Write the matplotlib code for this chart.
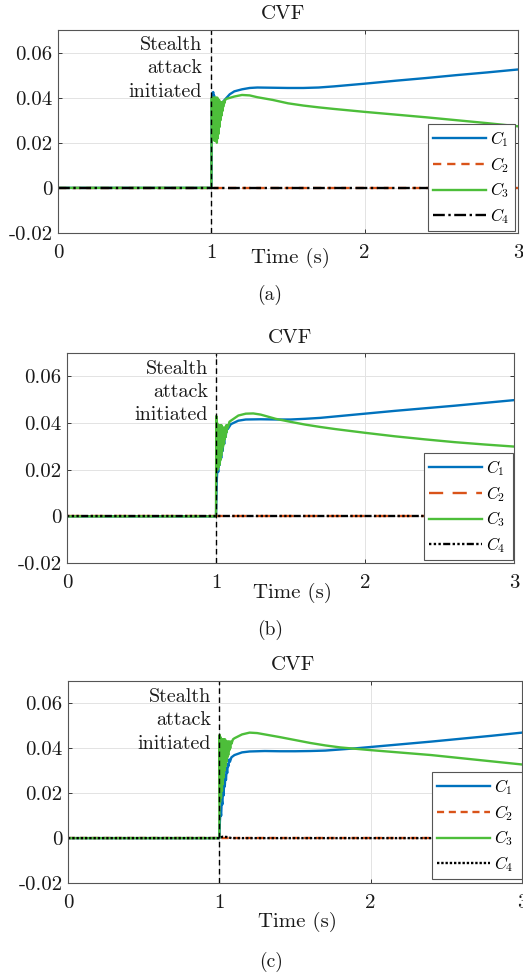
import matplotlib
matplotlib.use("Agg")
import matplotlib.pyplot as plt

plt.rcParams['font.family'] = ['cmr10', 'DejaVu Serif']
plt.rcParams['mathtext.fontset'] = 'cm'
plt.rcParams['axes.unicode_minus'] = False
plt.rcParams['axes.formatter.use_mathtext'] = True

# ---------------- data ----------------
X_TICKS = [0, 1, 2, 3]
X_TICK_LABELS = ['0', '1', '2', '3']
Y_TICKS = [-0.02, 0, 0.02, 0.04, 0.06]
Y_TICK_LABELS = ['-0.02', '0', '0.02', '0.04', '0.06']
ATTACK_TIME = 1.0
SERIES_NAMES = ['$C_1$', '$C_2$', '$C_3$', '$C_4$']
PANEL_LABELS = ['(a)', '(b)', '(c)']

A_C1 = [(0, 0), (1.0, 0), (1.003, 0.038), (1.006, 0.042), (1.009, 0.040), (1.012, 0.0425),
        (1.015, 0.039), (1.018, 0.041), (1.021, 0.038), (1.025, 0.039), (1.03, 0.037),
        (1.035, 0.0375), (1.04, 0.036), (1.045, 0.0362), (1.05, 0.036), (1.06, 0.0365),
        (1.07, 0.0375), (1.08, 0.0385), (1.10, 0.040), (1.12, 0.0415), (1.15, 0.0428),
        (1.20, 0.0437), (1.25, 0.0443), (1.30, 0.0445), (1.40, 0.0444), (1.50, 0.0443),
        (1.60, 0.0443), (1.70, 0.0445), (1.80, 0.0450), (2.00, 0.0462), (2.20, 0.0475),
        (2.40, 0.0487), (2.60, 0.0500), (2.80, 0.0512), (3.00, 0.0525)]
A_C2 = [(0, 0), (3, 0)]
A_C3 = [(0, 0), (1.0, 0), (1.003, 0.040), (1.006, 0.024), (1.009, 0.040), (1.012, 0.022),
        (1.015, 0.040), (1.018, 0.021), (1.021, 0.040), (1.024, 0.021), (1.027, 0.040),
        (1.030, 0.021), (1.033, 0.040), (1.036, 0.020), (1.039, 0.040), (1.042, 0.022),
        (1.045, 0.039), (1.048, 0.024), (1.051, 0.039), (1.054, 0.027), (1.057, 0.038),
        (1.060, 0.030), (1.063, 0.038), (1.066, 0.032), (1.069, 0.038), (1.072, 0.034),
        (1.075, 0.038), (1.078, 0.036), (1.081, 0.0385), (1.085, 0.0375), (1.09, 0.039),
        (1.10, 0.0395), (1.15, 0.0405), (1.20, 0.0412), (1.25, 0.0410), (1.30, 0.0402),
        (1.40, 0.0390), (1.50, 0.0375), (1.60, 0.0365), (1.70, 0.0357), (1.80, 0.0350),
        (2.00, 0.0337), (2.20, 0.0325), (2.40, 0.0313), (2.60, 0.0300), (2.80, 0.0287),
        (3.00, 0.0273)]
A_C4 = [(0, 0), (3, 0)]

B_C1 = [(0, 0), (1.0, 0), (1.005, 0.015), (1.01, 0.022), (1.015, 0.019), (1.02, 0.026),
        (1.025, 0.022), (1.03, 0.029), (1.035, 0.025), (1.04, 0.032), (1.045, 0.028),
        (1.05, 0.034), (1.055, 0.031), (1.06, 0.036), (1.065, 0.034), (1.07, 0.037),
        (1.08, 0.0375), (1.10, 0.0395), (1.15, 0.0410), (1.20, 0.0415), (1.30, 0.0416),
        (1.40, 0.0415), (1.50, 0.0415), (1.60, 0.0418), (1.70, 0.0422), (1.80, 0.0428),
        (2.00, 0.0440), (2.20, 0.0452), (2.40, 0.0463), (2.60, 0.0474), (2.80, 0.0486),
        (3.00, 0.0498)]
B_C2 = [(0, 0), (3, 0)]
B_C3 = [(0, 0), (1.0, 0), (1.002, 0.043), (1.005, 0.022), (1.008, 0.040), (1.011, 0.020),
        (1.014, 0.039), (1.017, 0.021), (1.020, 0.039), (1.023, 0.022), (1.026, 0.039),
        (1.029, 0.024), (1.032, 0.039), (1.035, 0.026), (1.038, 0.039), (1.041, 0.028),
        (1.044, 0.038), (1.047, 0.030), (1.050, 0.038), (1.053, 0.031), (1.056, 0.038),
        (1.059, 0.033), (1.062, 0.038), (1.065, 0.034), (1.068, 0.039), (1.071, 0.036),
        (1.075, 0.039), (1.08, 0.038), (1.09, 0.0405), (1.10, 0.041), (1.15, 0.0432),
        (1.20, 0.0440), (1.25, 0.0441), (1.30, 0.0436), (1.40, 0.0418), (1.50, 0.0405),
        (1.60, 0.0393), (1.70, 0.0383), (1.80, 0.0374), (2.00, 0.0358), (2.20, 0.0343),
        (2.40, 0.0330), (2.60, 0.0318), (2.80, 0.0308), (3.00, 0.0299)]
B_C4 = [(0, 0), (3, 0)]

C_C1 = [(0, 0), (1.0, 0), (1.004, 0.008), (1.008, 0.012), (1.012, 0.010), (1.016, 0.017),
        (1.020, 0.015), (1.024, 0.021), (1.028, 0.019), (1.032, 0.025), (1.036, 0.023),
        (1.040, 0.028), (1.044, 0.026), (1.048, 0.031), (1.052, 0.029), (1.056, 0.033),
        (1.060, 0.032), (1.065, 0.035), (1.07, 0.034), (1.08, 0.036), (1.10, 0.0370),
        (1.15, 0.0382), (1.20, 0.0386), (1.30, 0.0388), (1.40, 0.0387), (1.50, 0.0387),
        (1.60, 0.0388), (1.70, 0.0390), (1.80, 0.0395), (1.90, 0.0400), (2.00, 0.0406),
        (2.20, 0.0418), (2.40, 0.0430), (2.60, 0.0443), (2.80, 0.0456), (3.00, 0.0470)]
C_C2 = [(0, 0), (3, 0)]
C_C3 = [(0, 0), (1.0, 0), (1.002, 0.046), (1.005, 0.016), (1.008, 0.045), (1.011, 0.018),
        (1.014, 0.044), (1.017, 0.021), (1.020, 0.044), (1.023, 0.024), (1.026, 0.044),
        (1.029, 0.027), (1.032, 0.044), (1.035, 0.030), (1.038, 0.044), (1.041, 0.032),
        (1.044, 0.043), (1.047, 0.034), (1.050, 0.043), (1.053, 0.036), (1.056, 0.043),
        (1.059, 0.037), (1.062, 0.043), (1.065, 0.039), (1.068, 0.043), (1.072, 0.040),
        (1.076, 0.043), (1.08, 0.042), (1.09, 0.044), (1.10, 0.0445), (1.15, 0.0462),
        (1.20, 0.0470), (1.25, 0.0468), (1.30, 0.0462), (1.40, 0.0450), (1.50, 0.0437),
        (1.60, 0.0424), (1.70, 0.0413), (1.80, 0.0404), (1.90, 0.0398), (2.00, 0.0392),
        (2.20, 0.0381), (2.40, 0.0370), (2.60, 0.0356), (2.80, 0.0342), (3.00, 0.0328)]
C_C4 = [(0, 0), (1.0, 0), (1.02, 0.0006), (1.05, 0.0005), (1.08, 0.0), (3, 0)]

PANELS = [
    [A_C1, A_C2, A_C3, A_C4],
    [B_C1, B_C2, B_C3, B_C4],
    [C_C1, C_C2, C_C3, C_C4],
]

# ---------------- styling / layout ----------------
W, H = 523, 975
BLUE, ORANGE, GREEN, BLACK = '#0072BD', '#D95319', '#4DBE3A', '#000000'
TXT = '#1a1a1a'

# pixel boxes: left, right, top, bottom
BOXES = [(58, 518, 30, 233), (67, 514, 353, 563), (68, 522, 681, 883)]
TITLE_Y = [14, 338, 665]
TITLE_X = [283, 290, 293]
XLABEL_Y = [258, 593, 922]
CAPTION = [(270, 295), (270, 630), (271, 962)]
TEXT_POS = [(0.94, 0.053), (0.946, 0.0532), (0.945, 0.0524)]
STYLES = [
    [dict(color=BLUE, ls='-'), dict(color=ORANGE, ls=(0, (3.5, 2.5))),
     dict(color=GREEN, ls='-'), dict(color=BLACK, ls=(0, (5, 1.5, 1, 1.5)))],
    [dict(color=BLUE, ls='-'), dict(color=ORANGE, ls=(0, (6, 4))),
     dict(color=GREEN, ls='-'), dict(color=BLACK, ls=(0, (1, 1, 1, 1, 1, 1, 3, 1)))],
    [dict(color=BLUE, ls='-'), dict(color=ORANGE, ls=(0, (3, 2))),
     dict(color=GREEN, ls='-'), dict(color=BLACK, ls=(0, (1, 0.8)))],
]
LEG_BOX = [(428, 515, 138, 231), (424, 513, 466, 560), (432, 522, 783, 879)]

fig = plt.figure(figsize=(W / 100, H / 100), dpi=100)

for i, series in enumerate(PANELS):
    l, r, t, b = BOXES[i]
    ax = fig.add_axes([l / W, (H - b) / H, (r - l) / W, (b - t) / H])
    ax.set_xlim(0, 3)
    ax.set_ylim(-0.02, 0.07)
    ax.grid(True, color='#e3e3e3', lw=0.7)
    ax.set_axisbelow(True)
    handles = []
    for j, pts in enumerate(series):
        xs = [p[0] for p in pts]
        ys = [p[1] for p in pts]
        st = STYLES[i][j]
        h, = ax.plot(xs, ys, color=st['color'], linestyle=st['ls'], lw=1.7,
                     label=SERIES_NAMES[j])
        handles.append(h)
    ax.axvline(ATTACK_TIME, color='black', ls=(0, (4, 2.5)), lw=1.0)
    ax.set_xticks(X_TICKS)
    ax.set_xticklabels(X_TICK_LABELS)
    ax.set_yticks(Y_TICKS)
    ax.set_yticklabels(Y_TICK_LABELS)
    ax.tick_params(direction='in', length=3, labelsize=15, colors=TXT,
                   width=0.6, top=True, right=True)
    ax.tick_params(axis='x', pad=8)
    ax.tick_params(axis='y', pad=4)
    for sp in ax.spines.values():
        sp.set_color('#555555')
        sp.set_linewidth(0.8)
    # text annotation
    tx, ty = TEXT_POS[i]
    ax.text(tx, ty, 'Stealth\nattack\ninitiated', ha='right', va='center',
            multialignment='right', fontsize=14.5, linespacing=1.38, color=TXT)
    # title
    fig.text(TITLE_X[i] / W, 1 - TITLE_Y[i] / H, 'CVF', ha='center', va='center',
             fontsize=15, color=TXT)
    # xlabel
    fig.text(((l + r) / 2 + 2) / W, 1 - XLABEL_Y[i] / H, 'Time (s)', ha='center',
             va='center', fontsize=15, color=TXT)
    # caption
    fig.text(CAPTION[i][0] / W, 1 - CAPTION[i][1] / H, PANEL_LABELS[i], ha='center',
             va='center', fontsize=14, color=TXT)
    # legend
    ll, lr, lt, lb = LEG_BOX[i]
    leg = ax.legend(handles=handles, loc='lower left',
                    bbox_to_anchor=((ll - l) / (r - l), (b - lb) / (b - t),
                                    (lr - ll) / (r - l), (lb - lt) / (b - t)),
                    mode='expand', fontsize=12, handlelength=3.2, handletextpad=0.25,
                    labelspacing=0.35, borderpad=0.3, borderaxespad=0,
                    fancybox=False, framealpha=1, edgecolor='#555555')
    leg.get_frame().set_linewidth(0.8)

fig.savefig('out.png', dpi=100)
